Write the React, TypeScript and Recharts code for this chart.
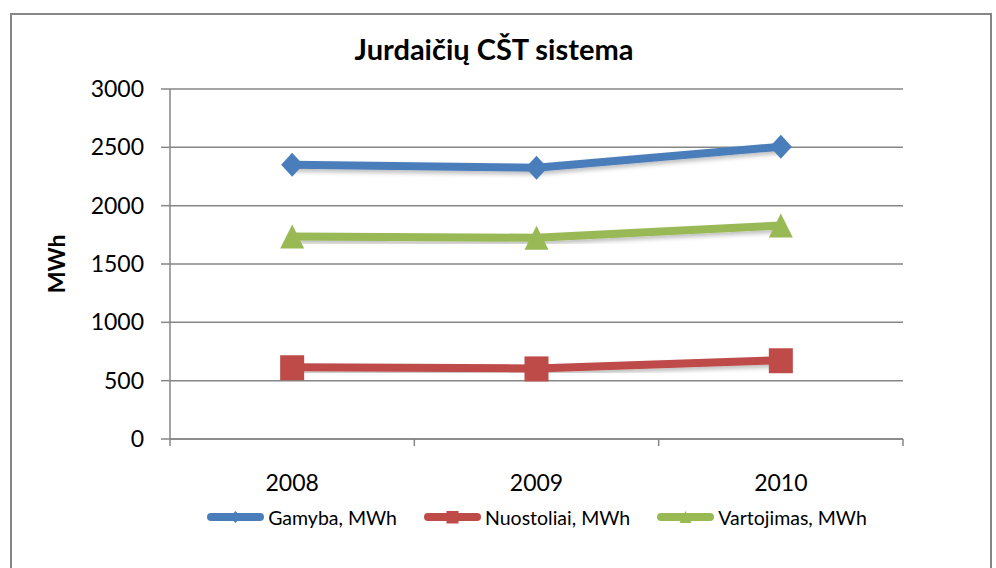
import { LineChart, Line, XAxis, YAxis, CartesianGrid, Legend, Label } from 'recharts';

const years = ['2008', '2009', '2010'];
const gamyba = [2350, 2325, 2505];
const nuostoliai = [615, 605, 675];
const vartojimas = [1735, 1725, 1830];
const yTicks = [0, 500, 1000, 1500, 2000, 2500, 3000];
const bandTicks = [0, 1, 2, 3];

const FONT = 'Lato, "Open Sans", sans-serif';
const AXIS = '#868686';

const SERIES = [
  { key: 'gamyba', name: 'Gamyba, MWh', color: '#4A7EBB', shape: 'diamond' },
  { key: 'nuostoliai', name: 'Nuostoliai, MWh', color: '#BE4B48', shape: 'square' },
  { key: 'vartojimas', name: 'Vartojimas, MWh', color: '#98B954', shape: 'triangle' },
];

const data = years.map((year, i) => ({
  year,
  idx: i + 0.5,
  gamyba: gamyba[i],
  nuostoliai: nuostoliai[i],
  vartojimas: vartojimas[i],
}));

function Marker({ shape, cx, cy, color, s }: { shape: string; cx: number; cy: number; color: string; s: number }) {
  if (shape === 'diamond') {
    const w = s * 0.46;
    const h = s * 0.5;
    return <polygon points={`${cx},${cy - h} ${cx + w},${cy} ${cx},${cy + h} ${cx - w},${cy}`} fill={color} />;
  }
  if (shape === 'square') {
    return <rect x={cx - s / 2} y={cy - s / 2} width={s} height={s * 1.04} fill={color} />;
  }
  const h = s / 2;
  return <polygon points={`${cx},${cy - h} ${cx + h},${cy + h} ${cx - h},${cy + h}`} fill={color} />;
}

function LegendContent() {
  return (
    <div style={{ display: 'flex', justifyContent: 'center', alignItems: 'center', height: 28, gap: 26 }}>
      {SERIES.map((s) => (
        <div key={s.key} style={{ display: 'flex', alignItems: 'center' }}>
          <svg width={59} height={14} style={{ marginRight: 3 }}>
            <line x1={5} y1={7} x2={54} y2={7} stroke={s.color} strokeWidth={8} strokeLinecap="round" />
            <Marker shape={s.shape} cx={29.5} cy={7} color={s.color} s={12} />
          </svg>
          <span style={{ fontFamily: FONT, fontSize: 19.5, color: '#000' }}>{s.name}</span>
        </div>
      ))}
    </div>
  );
}

// tick marks at the category boundaries (no label)
function BandTick(p: any) {
  return <line x1={p.x} y1={p.y - 7} x2={p.x} y2={p.y} stroke={AXIS} strokeWidth={1.5} />;
}

export default function App() {
  return (
    <div style={{ position: 'absolute', left: 0, top: 0, width: 996, height: 568, overflow: 'hidden', background: '#fff' }}>
      <div
        style={{
          position: 'absolute',
          left: 10,
          top: 13,
          width: 978,
          height: 600,
          border: `2px solid ${AXIS}`,
        }}
      />
      <div
        style={{
          position: 'absolute',
          left: 0,
          top: 34,
          width: 988,
          textAlign: 'center',
          fontFamily: FONT,
          fontWeight: 700,
          fontSize: 29,
          lineHeight: 1,
          color: '#000',
        }}
      >
        Jurdaičių CŠT sistema
      </div>
      <div style={{ position: 'absolute', left: 0, top: 0 }}>
        <LineChart width={996} height={568} data={data} margin={{ top: 89, right: 93, bottom: 88, left: 10 }}>
          <defs>
            <filter id="shadow" x="-10%" y="-50%" width="120%" height="200%">
              <feDropShadow dx={0} dy={3} stdDeviation={2} floodColor="#000" floodOpacity={0.25} />
            </filter>
          </defs>
          <CartesianGrid xAxisId="band" vertical={false} stroke={AXIS} strokeWidth={1.5} />
          <XAxis
            xAxisId="band"
            type="number"
            dataKey="idx"
            domain={[0, 3]}
            ticks={bandTicks}
            interval={0}
            tick={<BandTick />}
            tickLine={false}
            tickSize={7}
            tickMargin={0}
            stroke={AXIS}
            strokeWidth={1.5}
            height={1}
            allowDataOverflow
          />
          <XAxis
            xAxisId="cat"
            dataKey="year"
            scale="band"
            axisLine={false}
            tickLine={false}
            tickSize={0}
            tickMargin={35}
            height={40}
            tick={{ fontFamily: FONT, fontSize: 23, fill: '#000' }}
          />
          <YAxis
            width={160}
            domain={[0, 3000]}
            ticks={yTicks}
            tickSize={9}
            tickMargin={17}
            stroke={AXIS}
            strokeWidth={1.5}
            tick={{ fontFamily: FONT, fontSize: 23, fill: '#000' }}
          >
            <Label
              content={({ viewBox }: any) => {
                const cx = viewBox.x + 46;
                const cy = viewBox.y + viewBox.height / 2;
                return (
                  <text
                    x={cx}
                    y={cy}
                    transform={`rotate(-90 ${cx} ${cy})`}
                    textAnchor="middle"
                    dominantBaseline="central"
                    fontFamily={FONT}
                    fontWeight={700}
                    fontSize={23}
                    fill="#000"
                  >
                    MWh
                  </text>
                );
              }}
            />
          </YAxis>
          <Legend
            layout="horizontal"
            verticalAlign="middle"
            align="center"
            wrapperStyle={{ top: 503, left: 170, width: 733 }}
            content={() => <LegendContent />}
          />
          {SERIES.map((s) => (
            <Line
              key={s.key}
              xAxisId="cat"
              dataKey={s.key}
              name={s.name}
              stroke={s.color}
              strokeWidth={8}
              strokeLinejoin="round"
              filter="url(#shadow)"
              isAnimationActive={false}
              activeDot={false}
              dot={(p: any) => (
                <Marker key={`${s.key}-${p.index}`} shape={s.shape} cx={p.cx} cy={p.cy} color={s.color} s={24} />
              )}
            />
          ))}
        </LineChart>
      </div>
    </div>
  );
}
